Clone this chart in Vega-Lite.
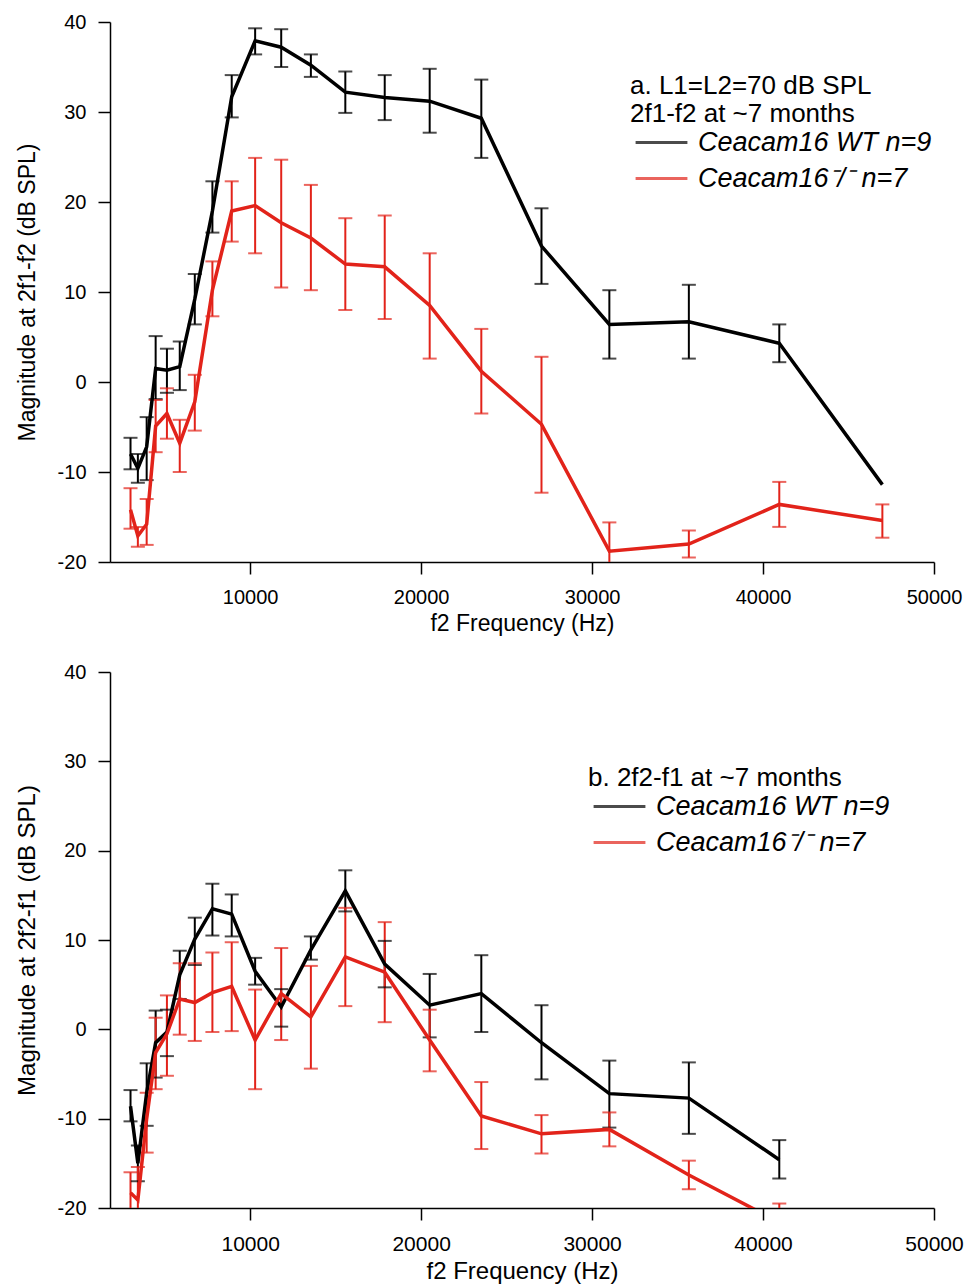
{
  "$schema": "https://vega.github.io/schema/vega-lite/v6.json",
  "background": "white",
  "padding": {"left": 15, "top": 12, "right": 4, "bottom": 5},
  "spacing": 27,
  "config": {
    "font": "Liberation Sans",
    "view": {"stroke": null},
    "axis": {"grid": false, "domainColor": "#000", "domainWidth": 1.5, "tickColor": "#000", "tickWidth": 1.5, "tickSize": 12, "labelColor": "#000", "titleColor": "#000", "labelFont": "Liberation Sans", "titleFont": "Liberation Sans", "labelFontSize": 20, "titleFontSize": 23, "titleFontWeight": "normal", "labelFlush": false},
    "legend": {"labelFont": "Liberation Sans", "titleFont": "Liberation Sans", "labelFontSize": 27, "titleFontSize": 26, "labelFontStyle": "italic", "titleFontWeight": "normal", "titleColor": "#000", "labelColor": "#000", "symbolType": "M-1.4,0H1.4", "symbolStrokeWidth": 3, "symbolSize": 1370, "symbolOffset": 11, "labelLimit": 500, "titleLimit": 500, "rowPadding": 2, "titlePadding": -5, "labelOffset": 16, "titleLineHeight": 28}
  },
  "datasets": {
    "d": [
      {"p": "a", "s": "Ceacam16 WT n=9", "f": 3000, "m": -8.0, "lo": -9.7, "hi": -6.2},
      {"p": "a", "s": "Ceacam16 WT n=9", "f": 3430, "m": -9.6, "lo": -11.2, "hi": -8.0},
      {"p": "a", "s": "Ceacam16 WT n=9", "f": 3945, "m": -7.2, "lo": -10.9, "hi": -3.9},
      {"p": "a", "s": "Ceacam16 WT n=9", "f": 4470, "m": 1.5, "lo": -1.9, "hi": 5.1},
      {"p": "a", "s": "Ceacam16 WT n=9", "f": 5130, "m": 1.3, "lo": -1.2, "hi": 3.7},
      {"p": "a", "s": "Ceacam16 WT n=9", "f": 5880, "m": 1.7, "lo": -0.9, "hi": 4.5},
      {"p": "a", "s": "Ceacam16 WT n=9", "f": 6760, "m": 9.2, "lo": 6.4, "hi": 12.0},
      {"p": "a", "s": "Ceacam16 WT n=9", "f": 7790, "m": 19.0, "lo": 16.6, "hi": 22.3},
      {"p": "a", "s": "Ceacam16 WT n=9", "f": 8920, "m": 31.7, "lo": 29.4, "hi": 34.1},
      {"p": "a", "s": "Ceacam16 WT n=9", "f": 10290, "m": 37.9, "lo": 36.4, "hi": 39.3},
      {"p": "a", "s": "Ceacam16 WT n=9", "f": 11815, "m": 37.2, "lo": 35.0, "hi": 39.2},
      {"p": "a", "s": "Ceacam16 WT n=9", "f": 13550, "m": 35.2, "lo": 33.9, "hi": 36.4},
      {"p": "a", "s": "Ceacam16 WT n=9", "f": 15565, "m": 32.2, "lo": 29.9, "hi": 34.5},
      {"p": "a", "s": "Ceacam16 WT n=9", "f": 17870, "m": 31.6, "lo": 29.1, "hi": 34.1},
      {"p": "a", "s": "Ceacam16 WT n=9", "f": 20500, "m": 31.2, "lo": 27.7, "hi": 34.8},
      {"p": "a", "s": "Ceacam16 WT n=9", "f": 23520, "m": 29.3, "lo": 24.9, "hi": 33.6},
      {"p": "a", "s": "Ceacam16 WT n=9", "f": 27040, "m": 15.1, "lo": 10.9, "hi": 19.3},
      {"p": "a", "s": "Ceacam16 WT n=9", "f": 31010, "m": 6.4, "lo": 2.6, "hi": 10.2},
      {"p": "a", "s": "Ceacam16 WT n=9", "f": 35660, "m": 6.7, "lo": 2.6, "hi": 10.8},
      {"p": "a", "s": "Ceacam16 WT n=9", "f": 40950, "m": 4.3, "lo": 2.2, "hi": 6.4},
      {"p": "a", "s": "Ceacam16 WT n=9", "f": 46980, "m": -11.4},
      {"p": "a", "s": "Ceacam16⁻/⁻ n=7", "f": 3000, "m": -14.2, "lo": -16.3, "hi": -11.8},
      {"p": "a", "s": "Ceacam16⁻/⁻ n=7", "f": 3430, "m": -17.1, "lo": -18.3, "hi": -16.1},
      {"p": "a", "s": "Ceacam16⁻/⁻ n=7", "f": 3945, "m": -15.8, "lo": -18.1, "hi": -13.0},
      {"p": "a", "s": "Ceacam16⁻/⁻ n=7", "f": 4470, "m": -4.9, "lo": -7.8, "hi": -2.0},
      {"p": "a", "s": "Ceacam16⁻/⁻ n=7", "f": 5130, "m": -3.5, "lo": -6.3, "hi": -0.7},
      {"p": "a", "s": "Ceacam16⁻/⁻ n=7", "f": 5880, "m": -6.8, "lo": -10.0, "hi": -4.2},
      {"p": "a", "s": "Ceacam16⁻/⁻ n=7", "f": 6760, "m": -2.2, "lo": -5.4, "hi": 0.8},
      {"p": "a", "s": "Ceacam16⁻/⁻ n=7", "f": 7790, "m": 10.2, "lo": 7.3, "hi": 13.4},
      {"p": "a", "s": "Ceacam16⁻/⁻ n=7", "f": 8920, "m": 19.0, "lo": 15.6, "hi": 22.3},
      {"p": "a", "s": "Ceacam16⁻/⁻ n=7", "f": 10290, "m": 19.6, "lo": 14.3, "hi": 24.9},
      {"p": "a", "s": "Ceacam16⁻/⁻ n=7", "f": 11815, "m": 17.7, "lo": 10.5, "hi": 24.7},
      {"p": "a", "s": "Ceacam16⁻/⁻ n=7", "f": 13550, "m": 16.0, "lo": 10.2, "hi": 21.9},
      {"p": "a", "s": "Ceacam16⁻/⁻ n=7", "f": 15565, "m": 13.1, "lo": 8.0, "hi": 18.2},
      {"p": "a", "s": "Ceacam16⁻/⁻ n=7", "f": 17870, "m": 12.8, "lo": 7.0, "hi": 18.5},
      {"p": "a", "s": "Ceacam16⁻/⁻ n=7", "f": 20500, "m": 8.5, "lo": 2.6, "hi": 14.3},
      {"p": "a", "s": "Ceacam16⁻/⁻ n=7", "f": 23520, "m": 1.2, "lo": -3.5, "hi": 5.9},
      {"p": "a", "s": "Ceacam16⁻/⁻ n=7", "f": 27040, "m": -4.7, "lo": -12.3, "hi": 2.8},
      {"p": "a", "s": "Ceacam16⁻/⁻ n=7", "f": 31010, "m": -18.8, "lo": -22.0, "hi": -15.6},
      {"p": "a", "s": "Ceacam16⁻/⁻ n=7", "f": 35660, "m": -18.0, "lo": -19.5, "hi": -16.5},
      {"p": "a", "s": "Ceacam16⁻/⁻ n=7", "f": 40950, "m": -13.6, "lo": -16.1, "hi": -11.1},
      {"p": "a", "s": "Ceacam16⁻/⁻ n=7", "f": 46980, "m": -15.4, "lo": -17.3, "hi": -13.6},
      {"p": "b", "s": "Ceacam16 WT n=9", "f": 3000, "m": -8.6, "lo": -10.3, "hi": -6.8},
      {"p": "b", "s": "Ceacam16 WT n=9", "f": 3430, "m": -15.0, "lo": -17.0, "hi": -13.0},
      {"p": "b", "s": "Ceacam16 WT n=9", "f": 3945, "m": -7.1, "lo": -10.8, "hi": -3.8},
      {"p": "b", "s": "Ceacam16 WT n=9", "f": 4470, "m": -1.5, "lo": -5.4, "hi": 2.1},
      {"p": "b", "s": "Ceacam16 WT n=9", "f": 5130, "m": -0.3, "lo": -3.0, "hi": 2.2},
      {"p": "b", "s": "Ceacam16 WT n=9", "f": 5880, "m": 6.1, "lo": 3.4, "hi": 8.8},
      {"p": "b", "s": "Ceacam16 WT n=9", "f": 6760, "m": 10.1, "lo": 7.2, "hi": 12.5},
      {"p": "b", "s": "Ceacam16 WT n=9", "f": 7790, "m": 13.5, "lo": 10.5, "hi": 16.3},
      {"p": "b", "s": "Ceacam16 WT n=9", "f": 8920, "m": 12.9, "lo": 10.4, "hi": 15.1},
      {"p": "b", "s": "Ceacam16 WT n=9", "f": 10290, "m": 6.5, "lo": 5.0, "hi": 8.0},
      {"p": "b", "s": "Ceacam16 WT n=9", "f": 11815, "m": 2.5, "lo": 0.3, "hi": 4.5},
      {"p": "b", "s": "Ceacam16 WT n=9", "f": 13550, "m": 8.9, "lo": 7.8, "hi": 10.4},
      {"p": "b", "s": "Ceacam16 WT n=9", "f": 15565, "m": 15.5, "lo": 13.2, "hi": 17.8},
      {"p": "b", "s": "Ceacam16 WT n=9", "f": 17870, "m": 7.3, "lo": 4.7, "hi": 9.9},
      {"p": "b", "s": "Ceacam16 WT n=9", "f": 20500, "m": 2.7, "lo": -0.9, "hi": 6.2},
      {"p": "b", "s": "Ceacam16 WT n=9", "f": 23520, "m": 4.0, "lo": -0.3, "hi": 8.3},
      {"p": "b", "s": "Ceacam16 WT n=9", "f": 27040, "m": -1.5, "lo": -5.6, "hi": 2.7},
      {"p": "b", "s": "Ceacam16 WT n=9", "f": 31010, "m": -7.2, "lo": -11.0, "hi": -3.5},
      {"p": "b", "s": "Ceacam16 WT n=9", "f": 35660, "m": -7.7, "lo": -11.7, "hi": -3.7},
      {"p": "b", "s": "Ceacam16 WT n=9", "f": 40950, "m": -14.6, "lo": -16.7, "hi": -12.4},
      {"p": "b", "s": "Ceacam16⁻/⁻ n=7", "f": 3000, "m": -18.3, "lo": -21.0, "hi": -16.0},
      {"p": "b", "s": "Ceacam16⁻/⁻ n=7", "f": 3430, "m": -19.1, "lo": -22.0, "hi": -15.4},
      {"p": "b", "s": "Ceacam16⁻/⁻ n=7", "f": 3945, "m": -10.0, "lo": -13.8, "hi": -7.1},
      {"p": "b", "s": "Ceacam16⁻/⁻ n=7", "f": 4470, "m": -2.6, "lo": -6.7, "hi": 1.3},
      {"p": "b", "s": "Ceacam16⁻/⁻ n=7", "f": 5130, "m": -0.5, "lo": -5.2, "hi": 3.8},
      {"p": "b", "s": "Ceacam16⁻/⁻ n=7", "f": 5880, "m": 3.4, "lo": -0.6, "hi": 7.4},
      {"p": "b", "s": "Ceacam16⁻/⁻ n=7", "f": 6760, "m": 3.0, "lo": -1.3, "hi": 7.4},
      {"p": "b", "s": "Ceacam16⁻/⁻ n=7", "f": 7790, "m": 4.1, "lo": -0.3, "hi": 8.6},
      {"p": "b", "s": "Ceacam16⁻/⁻ n=7", "f": 8920, "m": 4.8, "lo": -0.2, "hi": 9.75},
      {"p": "b", "s": "Ceacam16⁻/⁻ n=7", "f": 10290, "m": -1.2, "lo": -6.7, "hi": 4.45},
      {"p": "b", "s": "Ceacam16⁻/⁻ n=7", "f": 11815, "m": 4.0, "lo": -1.2, "hi": 9.1},
      {"p": "b", "s": "Ceacam16⁻/⁻ n=7", "f": 13550, "m": 1.4, "lo": -4.4, "hi": 7.1},
      {"p": "b", "s": "Ceacam16⁻/⁻ n=7", "f": 15565, "m": 8.1, "lo": 2.6, "hi": 13.6},
      {"p": "b", "s": "Ceacam16⁻/⁻ n=7", "f": 17870, "m": 6.4, "lo": 0.8, "hi": 12.0},
      {"p": "b", "s": "Ceacam16⁻/⁻ n=7", "f": 20500, "m": -1.2, "lo": -4.7, "hi": 2.2},
      {"p": "b", "s": "Ceacam16⁻/⁻ n=7", "f": 23520, "m": -9.7, "lo": -13.4, "hi": -5.9},
      {"p": "b", "s": "Ceacam16⁻/⁻ n=7", "f": 27040, "m": -11.7, "lo": -13.9, "hi": -9.6},
      {"p": "b", "s": "Ceacam16⁻/⁻ n=7", "f": 31010, "m": -11.2, "lo": -13.1, "hi": -9.3},
      {"p": "b", "s": "Ceacam16⁻/⁻ n=7", "f": 35660, "m": -16.3, "lo": -17.9, "hi": -14.7},
      {"p": "b", "s": "Ceacam16⁻/⁻ n=7", "f": 40950, "m": -21.6, "lo": -23.7, "hi": -19.5}
    ]
  },
  "resolve": {"legend": {"color": "independent"}, "scale": {"color": "independent"}},
  "vconcat": [
    {
      "width": 824,
      "height": 540,
      "data": {"name": "d"},
      "transform": [{"filter": "datum.p === 'a'"}],
      "encoding": {
        "x": {"field": "f", "type": "quantitative", "scale": {"domain": [1800, 50000], "nice": false, "zero": false}, "axis": {"values": [10000, 20000, 30000, 40000, 50000], "title": "f2 Frequency (Hz)", "labelPadding": 13, "titlePadding": 5, "format": "d"}},
        "color": {"field": "s", "type": "nominal", "scale": {"domain": ["Ceacam16 WT n=9", "Ceacam16⁻/⁻ n=7"], "range": ["#000000", "#e2231a"]}, "legend": {"orient": "none", "legendX": 520, "legendY": 51, "title": ["a. L1=L2=70 dB SPL", "2f1-f2 at ~7 months"]}}
      },
      "layer": [
        {"transform": [{"filter": "isValid(datum.lo)"}], "mark": {"type": "rule", "strokeWidth": 2, "clip": true}, "encoding": {"y": {"field": "lo", "type": "quantitative"}, "y2": {"field": "hi"}}},
        {"transform": [{"filter": "isValid(datum.lo)"}], "mark": {"type": "tick", "orient": "horizontal", "size": 14, "thickness": 2, "clip": true}, "encoding": {"y": {"field": "lo", "type": "quantitative"}}},
        {"transform": [{"filter": "isValid(datum.lo)"}], "mark": {"type": "tick", "orient": "horizontal", "size": 14, "thickness": 2, "clip": true}, "encoding": {"y": {"field": "hi", "type": "quantitative"}}},
        {"mark": {"type": "line", "strokeWidth": 3.5, "clip": true}, "encoding": {"y": {"field": "m", "type": "quantitative", "scale": {"domain": [-20, 40], "nice": false, "zero": false}, "axis": {"values": [-20, -10, 0, 10, 20, 30, 40], "labelExpr": "datum.value < 0 ? '-' + abs(datum.value) : '' + datum.value", "title": "Magnitude at 2f1-f2 (dB SPL)", "labelPadding": 12, "titlePadding": 18}}}}
      ]
    },
    {
      "width": 824,
      "height": 536,
      "data": {"name": "d"},
      "transform": [{"filter": "datum.p === 'b'"}],
      "encoding": {
        "x": {"field": "f", "type": "quantitative", "scale": {"domain": [1800, 50000], "nice": false, "zero": false}, "axis": {"values": [10000, 20000, 30000, 40000, 50000], "title": "f2 Frequency (Hz)", "labelPadding": 13, "titlePadding": 5, "format": "d", "labelFontSize": 21, "titleFontSize": 24}},
        "color": {"field": "s", "type": "nominal", "scale": {"domain": ["Ceacam16 WT n=9", "Ceacam16⁻/⁻ n=7"], "range": ["#000000", "#e2231a"]}, "legend": {"orient": "none", "legendX": 478, "legendY": 93, "title": "b. 2f2-f1 at ~7 months"}}
      },
      "layer": [
        {"mark": {"type": "rule", "strokeWidth": 2, "clip": true}, "encoding": {"y": {"field": "lo", "type": "quantitative"}, "y2": {"field": "hi"}}},
        {"mark": {"type": "tick", "orient": "horizontal", "size": 14, "thickness": 2, "clip": true}, "encoding": {"y": {"field": "lo", "type": "quantitative"}}},
        {"mark": {"type": "tick", "orient": "horizontal", "size": 14, "thickness": 2, "clip": true}, "encoding": {"y": {"field": "hi", "type": "quantitative"}}},
        {"mark": {"type": "line", "strokeWidth": 3.5, "clip": true}, "encoding": {"y": {"field": "m", "type": "quantitative", "scale": {"domain": [-20, 40], "nice": false, "zero": false}, "axis": {"values": [-20, -10, 0, 10, 20, 30, 40], "labelExpr": "datum.value < 0 ? '-' + abs(datum.value) : '' + datum.value", "title": "Magnitude at 2f2-f1 (dB SPL)", "labelPadding": 12, "titlePadding": 18, "titleFontSize": 24}}}}
      ]
    }
  ]
}
